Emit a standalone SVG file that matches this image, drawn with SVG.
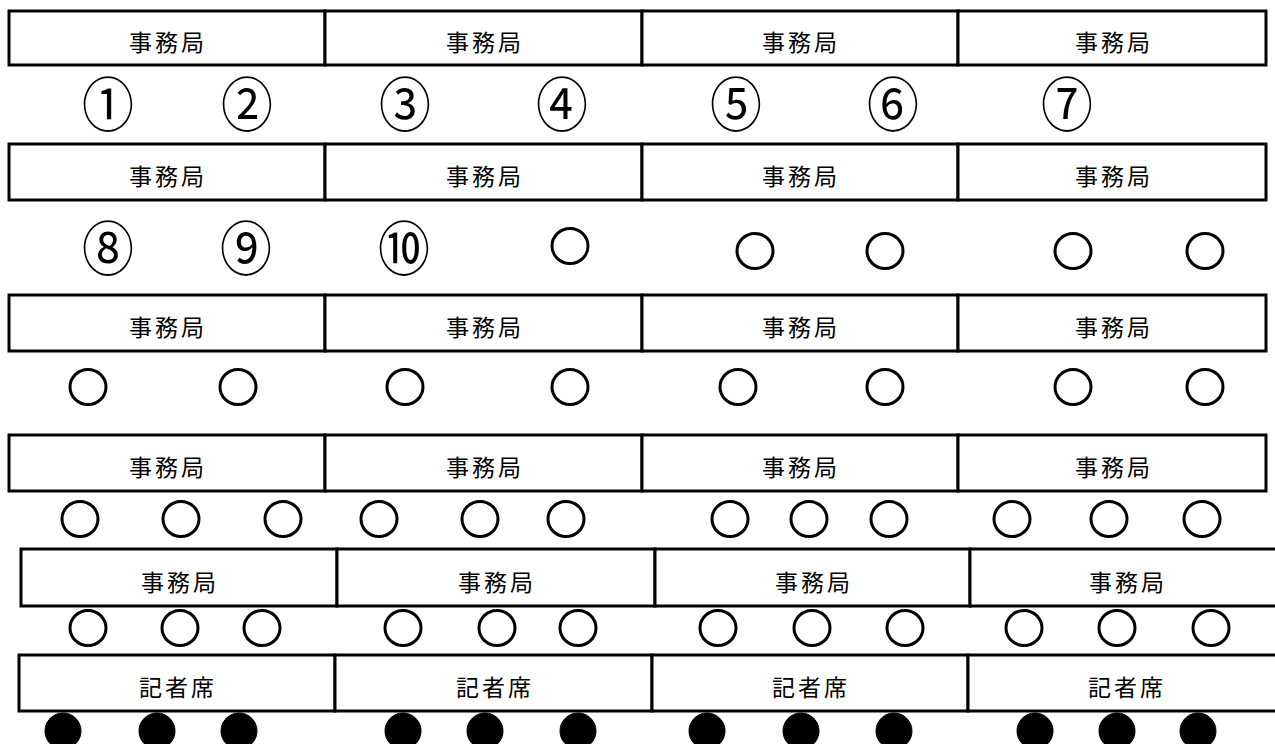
<svg xmlns="http://www.w3.org/2000/svg" width="1275" height="744" viewBox="0 0 1275 744">
<style>
.cell{fill:#fff;stroke:#000;stroke-width:3}
.lbl{font-family:"Noto Sans CJK JP","Noto Sans CJK SC",sans-serif;font-size:23px;letter-spacing:3px;fill:#000;text-anchor:middle;dominant-baseline:central}
.num{font-family:"Noto Sans CJK JP","Noto Sans CJK SC",sans-serif;font-size:52px;fill:#000;text-anchor:middle;dominant-baseline:central}
.seat{fill:#fff;stroke:#000;stroke-width:3}
.press{fill:#000;stroke:#000;stroke-width:1}
</style>
<rect width="1275" height="744" fill="#fff"/>
<!-- Row 1 -->
<g id="r1c1"><rect class="cell" x="9" y="11" width="316" height="54"/><text class="lbl" x="168" y="41">事務局</text></g>
<g id="r1c2"><rect class="cell" x="325" y="11" width="317" height="54"/><text class="lbl" x="485" y="41">事務局</text></g>
<g id="r1c3"><rect class="cell" x="642" y="11" width="316" height="54"/><text class="lbl" x="801" y="41">事務局</text></g>
<g id="r1c4"><rect class="cell" x="958" y="11" width="308" height="54"/><text class="lbl" x="1114" y="41">事務局</text></g>
<g id="row1-numbers">
<g transform="translate(0,101) scale(1,1.12)"><text class="num" x="108" y="0">①</text></g>
<g transform="translate(0,101) scale(1,1.12)"><text class="num" x="247" y="0">②</text></g>
<g transform="translate(0,101) scale(1,1.12)"><text class="num" x="405" y="0">③</text></g>
<g transform="translate(0,101) scale(1,1.12)"><text class="num" x="562" y="0">④</text></g>
<g transform="translate(0,101) scale(1,1.12)"><text class="num" x="736" y="0">⑤</text></g>
<g transform="translate(0,101) scale(1,1.12)"><text class="num" x="893" y="0">⑥</text></g>
<g transform="translate(0,101) scale(1,1.12)"><text class="num" x="1067" y="0">⑦</text></g>
</g>
<!-- Row 2 -->
<g id="r2c1"><rect class="cell" x="9" y="144" width="316" height="56"/><text class="lbl" x="168" y="175">事務局</text></g>
<g id="r2c2"><rect class="cell" x="325" y="144" width="317" height="56"/><text class="lbl" x="485" y="175">事務局</text></g>
<g id="r2c3"><rect class="cell" x="642" y="144" width="316" height="56"/><text class="lbl" x="801" y="175">事務局</text></g>
<g id="r2c4"><rect class="cell" x="958" y="144" width="308" height="56"/><text class="lbl" x="1114" y="175">事務局</text></g>
<g id="row2-seats">
<g transform="translate(0,245) scale(1,1.12)"><text class="num" x="108" y="0">⑧</text></g>
<g transform="translate(0,245) scale(1,1.12)"><text class="num" x="246" y="0">⑨</text></g>
<g transform="translate(0,245) scale(1,1.12)"><text class="num" x="404" y="0">⑩</text></g>
<ellipse class="seat" cx="570" cy="246" rx="18" ry="17.5"/>
<ellipse class="seat" cx="755" cy="251" rx="18" ry="17.5"/>
<ellipse class="seat" cx="885" cy="251" rx="18" ry="17.5"/>
<ellipse class="seat" cx="1073" cy="251" rx="18" ry="17.5"/>
<ellipse class="seat" cx="1205" cy="251" rx="18" ry="17.5"/>
</g>
<!-- Row 3 -->
<g id="r3c1"><rect class="cell" x="9" y="295" width="316" height="56"/><text class="lbl" x="168" y="326">事務局</text></g>
<g id="r3c2"><rect class="cell" x="325" y="295" width="317" height="56"/><text class="lbl" x="485" y="326">事務局</text></g>
<g id="r3c3"><rect class="cell" x="642" y="295" width="316" height="56"/><text class="lbl" x="801" y="326">事務局</text></g>
<g id="r3c4"><rect class="cell" x="958" y="295" width="308" height="56"/><text class="lbl" x="1114" y="326">事務局</text></g>
<g id="row3-seats">
<ellipse class="seat" cx="88" cy="387" rx="18" ry="17.5"/>
<ellipse class="seat" cx="238" cy="387" rx="18" ry="17.5"/>
<ellipse class="seat" cx="405" cy="387" rx="18" ry="17.5"/>
<ellipse class="seat" cx="570" cy="387" rx="18" ry="17.5"/>
<ellipse class="seat" cx="738" cy="387" rx="18" ry="17.5"/>
<ellipse class="seat" cx="885" cy="387" rx="18" ry="17.5"/>
<ellipse class="seat" cx="1073" cy="387" rx="18" ry="17.5"/>
<ellipse class="seat" cx="1205" cy="387" rx="18" ry="17.5"/>
</g>
<!-- Row 4 -->
<g id="r4c1"><rect class="cell" x="9" y="435" width="316" height="56"/><text class="lbl" x="168" y="466">事務局</text></g>
<g id="r4c2"><rect class="cell" x="325" y="435" width="317" height="56"/><text class="lbl" x="485" y="466">事務局</text></g>
<g id="r4c3"><rect class="cell" x="642" y="435" width="316" height="56"/><text class="lbl" x="801" y="466">事務局</text></g>
<g id="r4c4"><rect class="cell" x="958" y="435" width="308" height="56"/><text class="lbl" x="1114" y="466">事務局</text></g>
<g id="row4-seats">
<ellipse class="seat" cx="80" cy="519" rx="18" ry="17.5"/>
<ellipse class="seat" cx="181" cy="519" rx="18" ry="17.5"/>
<ellipse class="seat" cx="283" cy="519" rx="18" ry="17.5"/>
<ellipse class="seat" cx="379" cy="519" rx="18" ry="17.5"/>
<ellipse class="seat" cx="480" cy="519" rx="18" ry="17.5"/>
<ellipse class="seat" cx="566" cy="519" rx="18" ry="17.5"/>
<ellipse class="seat" cx="730" cy="519" rx="18" ry="17.5"/>
<ellipse class="seat" cx="809" cy="519" rx="18" ry="17.5"/>
<ellipse class="seat" cx="889" cy="519" rx="18" ry="17.5"/>
<ellipse class="seat" cx="1012" cy="519" rx="18" ry="17.5"/>
<ellipse class="seat" cx="1109" cy="519" rx="18" ry="17.5"/>
<ellipse class="seat" cx="1202" cy="519" rx="18" ry="17.5"/>
</g>
<!-- Row 5 -->
<g id="r5c1"><rect class="cell" x="21" y="549" width="316" height="57"/><text class="lbl" x="180" y="581">事務局</text></g>
<g id="r5c2"><rect class="cell" x="337" y="549" width="318" height="57"/><text class="lbl" x="497" y="581">事務局</text></g>
<g id="r5c3"><rect class="cell" x="655" y="549" width="315" height="57"/><text class="lbl" x="814" y="581">事務局</text></g>
<g id="r5c4"><rect class="cell" x="970" y="549" width="320" height="57"/><text class="lbl" x="1128" y="581">事務局</text></g>
<g id="row5-seats">
<ellipse class="seat" cx="88" cy="628" rx="18" ry="17.5"/>
<ellipse class="seat" cx="180" cy="628" rx="18" ry="17.5"/>
<ellipse class="seat" cx="262" cy="628" rx="18" ry="17.5"/>
<ellipse class="seat" cx="403" cy="628" rx="18" ry="17.5"/>
<ellipse class="seat" cx="497" cy="628" rx="18" ry="17.5"/>
<ellipse class="seat" cx="578" cy="628" rx="18" ry="17.5"/>
<ellipse class="seat" cx="718" cy="628" rx="18" ry="17.5"/>
<ellipse class="seat" cx="812" cy="628" rx="18" ry="17.5"/>
<ellipse class="seat" cx="905" cy="628" rx="18" ry="17.5"/>
<ellipse class="seat" cx="1024" cy="628" rx="18" ry="17.5"/>
<ellipse class="seat" cx="1117" cy="628" rx="18" ry="17.5"/>
<ellipse class="seat" cx="1211" cy="628" rx="18" ry="17.5"/>
</g>
<!-- Row 6 -->
<g id="r6c1"><rect class="cell" x="19" y="655" width="316" height="56"/><text class="lbl" x="178" y="686">記者席</text></g>
<g id="r6c2"><rect class="cell" x="335" y="655" width="317" height="56"/><text class="lbl" x="495" y="686">記者席</text></g>
<g id="r6c3"><rect class="cell" x="652" y="655" width="316" height="56"/><text class="lbl" x="811" y="686">記者席</text></g>
<g id="r6c4"><rect class="cell" x="968" y="655" width="322" height="56"/><text class="lbl" x="1127" y="686">記者席</text></g>
<g id="row6-press">
<ellipse class="press" cx="63" cy="731" rx="18" ry="18"/>
<ellipse class="press" cx="157" cy="731" rx="18" ry="18"/>
<ellipse class="press" cx="239" cy="731" rx="18" ry="18"/>
<ellipse class="press" cx="403" cy="731" rx="18" ry="18"/>
<ellipse class="press" cx="485" cy="731" rx="18" ry="18"/>
<ellipse class="press" cx="578" cy="731" rx="18" ry="18"/>
<ellipse class="press" cx="707" cy="731" rx="18" ry="18"/>
<ellipse class="press" cx="801" cy="731" rx="18" ry="18"/>
<ellipse class="press" cx="894" cy="731" rx="18" ry="18"/>
<ellipse class="press" cx="1035" cy="731" rx="18" ry="18"/>
<ellipse class="press" cx="1117" cy="731" rx="18" ry="18"/>
<ellipse class="press" cx="1198" cy="731" rx="18" ry="18"/>
</g>
</svg>
